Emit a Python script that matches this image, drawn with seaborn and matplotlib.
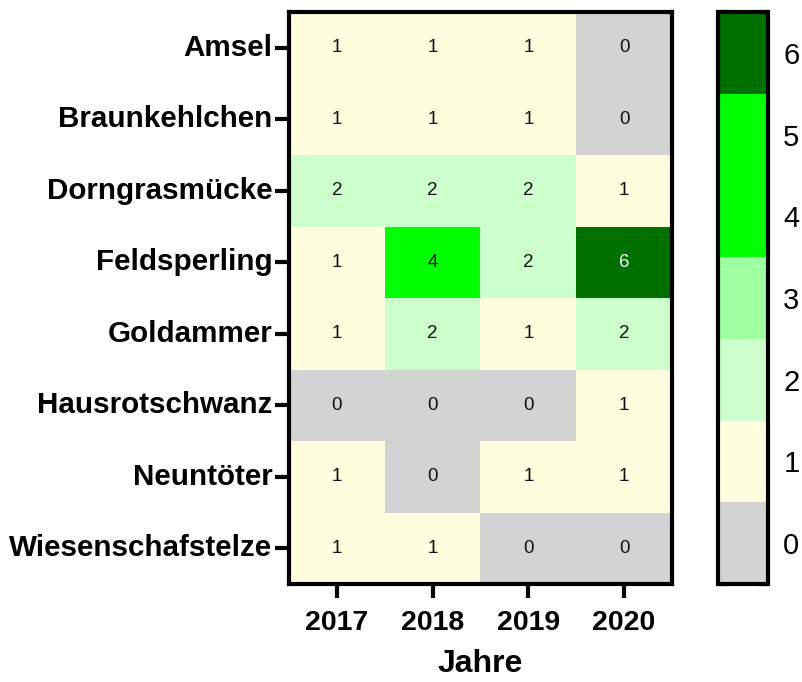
import numpy as np
import pandas as pd
import seaborn as sns
import matplotlib
matplotlib.use("Agg")
import matplotlib.pyplot as plt
from matplotlib.colors import ListedColormap, BoundaryNorm

species = ["Amsel", "Braunkehlchen", "Dorngrasmücke", "Feldsperling",
           "Goldammer", "Hausrotschwanz", "Neuntöter", "Wiesenschafstelze"]
years = ["2017", "2018", "2019", "2020"]
v2017 = [1, 1, 2, 1, 1, 0, 1, 1]
v2018 = [1, 1, 2, 4, 2, 0, 0, 1]
v2019 = [1, 1, 2, 2, 1, 0, 1, 0]
v2020 = [0, 0, 1, 6, 2, 1, 1, 0]
level_colors = ["#D3D3D3", "#FFFFE0", "#CCFFCC", "#A0FFA0", "#00FF00", "#00FF00", "#007000"]
cbar_ticks = [0, 1, 2, 3, 4, 5, 6]

sns.set_theme(style="white")
plt.rcParams['font.family'] = ['Liberation Sans', 'DejaVu Sans']
plt.rcParams['text.color'] = 'black'
plt.rcParams['xtick.color'] = 'black'
plt.rcParams['ytick.color'] = 'black'
plt.rcParams['axes.labelcolor'] = 'black'

df = pd.DataFrame({"2017": v2017, "2018": v2018, "2019": v2019, "2020": v2020}, index=species)

cmap = ListedColormap(level_colors)
norm = BoundaryNorm(np.arange(-0.5, 7.0, 1.0), cmap.N)

fig = plt.figure(figsize=(8.03, 6.82), dpi=100)
ax = fig.add_axes([289/803, 1-584/682, (672-289)/803, (584-12)/682])
cax = fig.add_axes([718/803, 1-584/682, (768-718)/803, (584-12)/682])

sns.heatmap(df, ax=ax, cbar_ax=cax, cmap=cmap, norm=norm, annot=True, fmt="d",
            cbar_kws={"ticks": cbar_ticks})

for t in ax.texts:
    t.set_fontsize(13.5)
    t.set_color("white" if t.get_text() == "6" else "#111111")

for s in ax.spines.values():
    s.set_visible(True)
    s.set_linewidth(3)
    s.set_color("black")

ax.tick_params(axis="both", which="both", length=10, width=3, color="black",
               direction="out", left=True, bottom=True, pad=2)
ax.tick_params(axis="x", pad=9)
ax.set_yticklabels(species, rotation=0, fontsize=21.3, fontweight="bold")
ax.set_xticklabels(years, rotation=0, fontsize=20.5, fontweight="bold")
ax.set_xlabel("Jahre", fontsize=23, fontweight="bold", labelpad=9)
ax.set_ylabel("")

cb = ax.collections[0].colorbar
cb.outline.set_visible(True)
cb.outline.set_linewidth(3)
cb.outline.set_edgecolor("black")
cax.yaxis.set_ticks_position("both")
cax.tick_params(axis="y", which="both", direction="in", length=7, width=3,
                left=True, right=True, labelsize=21, pad=11, color="black")
cax.set_yticklabels([str(t) for t in cbar_ticks])

fig.savefig("out.png", dpi=100)
